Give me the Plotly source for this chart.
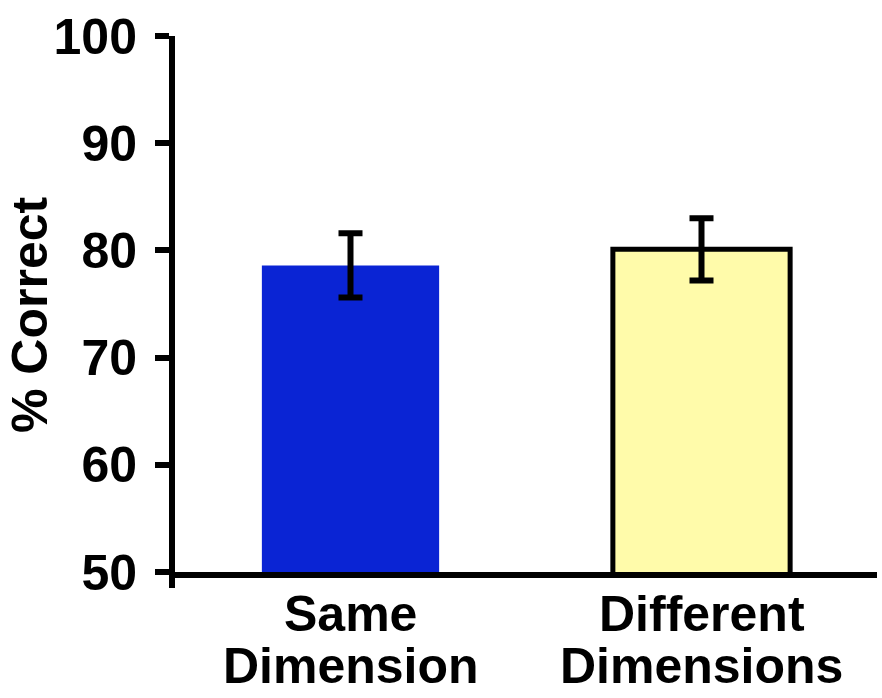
import plotly.graph_objects as go

# Data
categories = ["Same Dimension", "Different Dimensions"]
label_line1 = ["Same", "Different"]
label_line2 = ["Dimension", "Dimensions"]
pct_correct = [78.6, 80.1]
err = [3.0, 2.9]
bar_colors = ["#0A24D4", "#FFFBAA"]
bar_edges = ["#0A24D4", "#000000"]
y_ticks = [50, 60, 70, 80, 90, 100]
y_title = "% Correct"

FONT = "Liberation Sans, Arial, Helvetica, sans-serif"
FS = 50
bold = dict(family=FONT, size=FS, color="black", weight=700)

fig = go.Figure()
fig.add_trace(go.Bar(
    x=categories,
    y=pct_correct,
    marker=dict(color=bar_colors, line=dict(color=bar_edges, width=[0, 5])),
    error_y=dict(type="data", array=err, visible=True,
                 color="black", thickness=6, width=12),
    showlegend=False,
))

# Two-line category labels under the bars, plus the rotated y title
annotations = []
for cat, l1, l2 in zip(categories, label_line1, label_line2):
    annotations.append(dict(x=cat, xref="x", y=0, yref="paper", yanchor="top",
                            text=l1, showarrow=False, yshift=-12, font=bold))
    annotations.append(dict(x=cat, xref="x", y=0, yref="paper", yanchor="top",
                            text=l2, showarrow=False, yshift=-64, font=bold))
annotations.append(dict(x=0, xref="paper", y=0.5, yref="paper",
                        xanchor="center", yanchor="middle", textangle=-90,
                        xshift=-145, yshift=-11, text=y_title,
                        showarrow=False, font=bold))

fig.update_layout(
    width=882, height=698,
    margin=dict(l=175, r=5, t=36, b=126, pad=0),
    paper_bgcolor="white", plot_bgcolor="white",
    bargap=0.495,
    font=bold,
    annotations=annotations,
    shapes=[dict(type="line", xref="paper", yref="paper",
                 xsizemode="pixel", ysizemode="pixel",
                 xanchor=0, yanchor=0, x0=-3, x1=-3, y0=0, y1=-16,
                 line=dict(color="black", width=6))],
)
fig.update_xaxes(
    showline=True, linecolor="black", linewidth=6,
    showticklabels=False, ticks="", showgrid=False, zeroline=False,
)
fig.update_yaxes(
    range=[50, 100], tickvals=y_ticks,
    showline=True, linecolor="black", linewidth=6,
    ticks="outside", ticklen=14, tickwidth=6, tickcolor="black",
    ticklabelstandoff=8,
    showgrid=False, zeroline=False,
    tickfont=bold,
)

fig.write_html("out.html")
